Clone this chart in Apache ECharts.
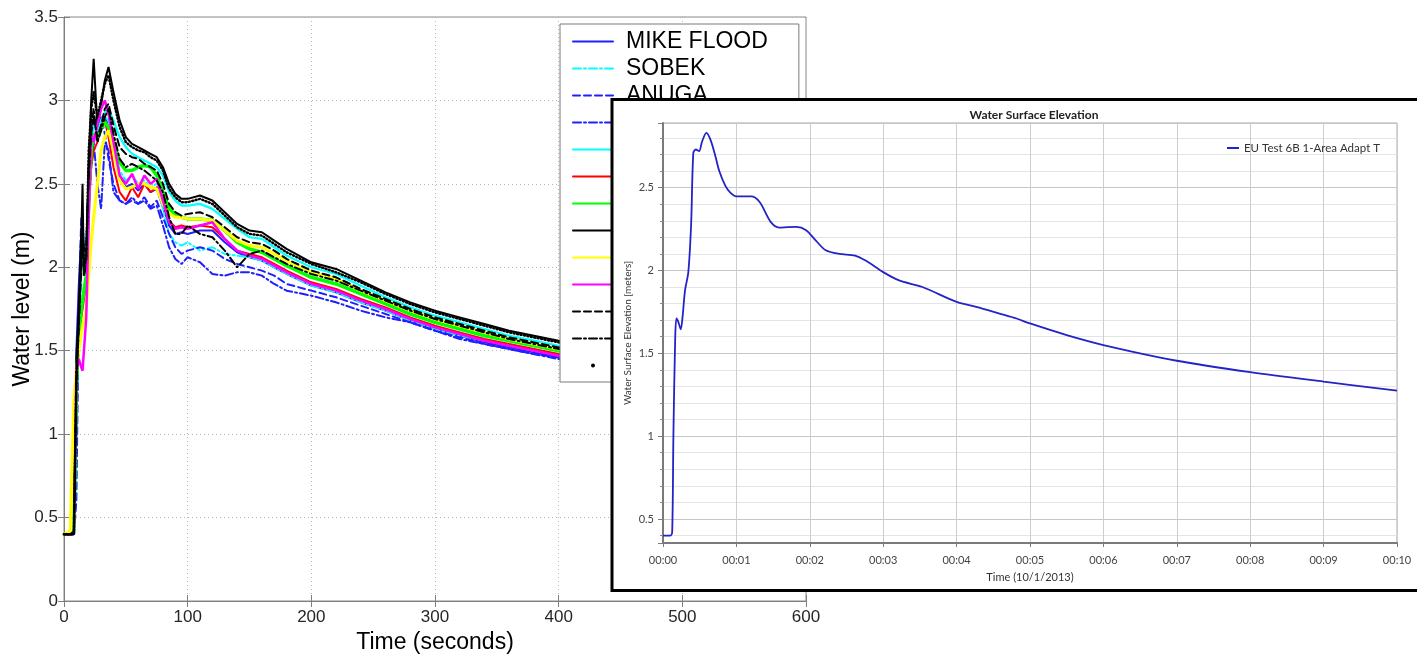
<!DOCTYPE html>
<html><head><meta charset="utf-8">
<script src="https://cdn.jsdelivr.net/npm/echarts@6/dist/echarts.min.js"></script>
<style>html,body{margin:0;padding:0;background:#fff}#c{width:1417px;height:658px}</style>
</head><body><div id="c"></div>
<script>
// ---- Main chart (left) : time in seconds ----
const times = [0,5,8,10,12,14,15,16,18,20,22,24,27,30,33,36,40,45,50,55,60,65,70,75,80,85,90,95,100,110,120,130,140,150,160,170,180,200,220,240,260,280,300,320,340,360,380,400,450];

const mikeFlood = [0.4,0.4,0.4,1.5,1.9, 2.2,2.3,2.1,2.15,2.5, 2.8,2.85,2.8,2.85,2.9, 2.85,2.7,2.55,2.48,2.5, 2.46,2.5,2.45,2.47,2.36, 2.25,2.2,2.21,2.2,2.22, 2.22,2.15,2.09,2.06,2.04, 2.0,1.96,1.89,1.85,1.79, 1.74,1.68,1.63,1.59,1.55, 1.52,1.49,1.46,1.39];
const sobek = [0.4,0.4,0.4,1.35,1.7, 2.0,2.1,2.0,2.1,2.45, 2.7,2.8,2.75,2.82,2.9, 2.88,2.72,2.58,2.52,2.55, 2.5,2.52,2.48,2.5,2.35, 2.2,2.15,2.13,2.15,2.1, 2.12,2.08,2.07,2.06,2.04, 2.0,1.96,1.89,1.85,1.79, 1.74,1.68,1.63,1.59,1.56, 1.53,1.5,1.48,1.41];
const anuga = [0.4,0.4,0.4,0.6,1.8, 2.3,2.25,2.0,2.1,2.4, 2.75,2.9,2.85,2.9,2.8, 2.65,2.5,2.4,2.38,2.4, 2.38,2.42,2.36,2.4,2.3, 2.2,2.12,2.08,2.1,2.12, 2.1,2.05,2.02,2.0,1.98, 1.95,1.9,1.86,1.82,1.77, 1.72,1.67,1.62,1.58,1.54, 1.51,1.48,1.46,1.39];
const blueDashDot = [0.4,0.4,0.4,1.0,1.7, 2.2,2.25,2.05,2.1,2.35, 2.6,2.75,2.5,2.35,2.75, 2.7,2.45,2.4,2.38,2.42, 2.38,2.4,2.35,2.37,2.25, 2.12,2.05,2.02,2.06,2.03, 1.96,1.95,1.97,1.97,1.95, 1.9,1.86,1.83,1.79,1.74, 1.7,1.67,1.62,1.57,1.54, 1.51,1.48,1.45,1.39];
const cyanSolid = [0.4,0.4,0.4,1.2,1.6, 2.0,2.1,2.05,2.1,2.5, 2.75,2.85,2.8,2.88,2.93, 2.95,2.88,2.78,2.72,2.68, 2.66,2.64,2.62,2.6,2.55, 2.45,2.4,2.37,2.37,2.38, 2.35,2.29,2.23,2.18,2.17, 2.12,2.07,2.0,1.96,1.89, 1.82,1.76,1.71,1.67,1.63, 1.59,1.56,1.53,1.46];
const redSolid = [0.4,0.4,0.4,1.25,1.55, 1.7,1.75,1.8,1.9,2.35, 2.6,2.7,2.75,2.85,2.88, 2.78,2.6,2.45,2.4,2.48, 2.42,2.5,2.45,2.48,2.38, 2.28,2.24,2.25,2.24,2.25, 2.24,2.17,2.1,2.08,2.06, 2.02,1.98,1.91,1.87,1.81, 1.76,1.7,1.65,1.61,1.57, 1.54,1.51,1.48,1.41];
const greenSolid = [0.4,0.4,0.41,1.3,1.6, 1.75,1.8,1.85,1.95,2.4, 2.7,2.8,2.78,2.83,2.87, 2.84,2.75,2.63,2.58,2.58, 2.6,2.61,2.6,2.55,2.45, 2.35,2.32,2.3,2.29,2.29, 2.28,2.22,2.15,2.11,2.09, 2.05,2.01,1.94,1.9,1.84, 1.78,1.72,1.67,1.63,1.59, 1.56,1.53,1.5,1.43];
const blackSolid = [0.4,0.4,0.42,1.45,1.75, 2.2,2.5,1.95,2.0,2.6, 3.0,3.25,2.85,2.97,3.12, 3.2,3.05,2.88,2.78,2.74, 2.72,2.7,2.68,2.66,2.6, 2.5,2.44,2.41,2.41,2.43, 2.4,2.33,2.26,2.22,2.21, 2.16,2.11,2.03,1.99,1.92, 1.85,1.79,1.74,1.7,1.66, 1.62,1.59,1.56,1.49];
const yellowSolid = [0.4,0.42,1.2,1.4,1.5, 1.6,1.65,1.68,1.75,1.95, 2.15,2.3,2.5,2.7,2.78, 2.82,2.7,2.52,2.47,2.48, 2.5,2.5,2.48,2.47,2.38, 2.32,2.3,2.3,2.29,2.29, 2.28,2.22,2.16,2.13,2.12, 2.08,2.04,1.97,1.93,1.86, 1.8,1.74,1.69,1.65,1.61, 1.57,1.54,1.51,1.44];
const magentaSolid = [0.4,0.4,0.4,1.38,1.45, 1.4,1.38,1.37,1.7,2.3, 2.8,2.75,2.85,2.95,3.0, 2.92,2.75,2.55,2.5,2.56, 2.47,2.55,2.5,2.53,2.4, 2.27,2.23,2.24,2.23,2.25, 2.27,2.17,2.1,2.07,2.05, 2.01,1.97,1.9,1.86,1.8, 1.75,1.69,1.64,1.6,1.56, 1.53,1.5,1.47,1.4];
const blackDashed = [0.4,0.4,0.4,1.3,1.65, 2.0,2.15,2.1,2.1,2.55, 2.8,2.9,2.78,2.85,2.95, 2.98,2.85,2.72,2.68,2.66, 2.65,2.62,2.6,2.58,2.5, 2.38,2.33,2.31,2.32,2.33, 2.3,2.24,2.18,2.15,2.14, 2.1,2.05,1.98,1.94,1.87, 1.81,1.75,1.7,1.66,1.62, 1.58,1.55,1.52,1.45];
const blackDashDot = [0.4,0.4,0.4,1.4,1.7, 2.1,2.2,2.05,2.05,2.6, 2.85,2.95,2.75,2.82,2.9, 2.95,2.8,2.65,2.6,2.62, 2.6,2.58,2.55,2.52,2.45, 2.3,2.2,2.2,2.25,2.2, 2.18,2.1,2.0,2.08,2.1, 2.06,2.02,1.96,1.92,1.86, 1.8,1.74,1.69,1.65,1.61, 1.57,1.54,1.51,1.44];
const blackDots = [0.4,0.4,0.4,1.3,1.7, 2.1,2.3,2.0,2.05,2.7, 2.95,3.05,2.9,3.0,3.1, 3.15,3.0,2.84,2.75,2.72, 2.7,2.69,2.66,2.64,2.58, 2.47,2.42,2.39,2.39,2.41, 2.38,2.31,2.24,2.2,2.19, 2.14,2.09,2.02,1.97,1.91, 1.84,1.78,1.73,1.69,1.65, 1.61,1.58,1.55,1.48];

const seriesNames = ['MIKE FLOOD','SOBEK','ANUGA','ISIS 2D','TUFLOW','InfoWorks','JFLOW+','LISFLOOD','RFSM-EDA','UIM','XPSTORM','Ceasg','FloodFlow'];

// ---- Inset chart (right) : time in seconds, shown as mm:ss minutes ----
const insetTimes = [0,6,7.5,8.5,10,11,12.5,14.5,16,18,20.7,23,24.8,26.8,29.5,32,35.5,39,43,46,51,55,60,66,72,79,88,95,102,109,117,125,133,144,157,166,180,193,212,240,256,275,289,300,330,360,420,480,540,600];
const insetLevels = [0.4,0.4,0.42,1.0,1.6,1.71,1.69,1.645,1.72,1.88,1.99,2.28,2.71,2.73,2.72,2.78,2.83,2.785,2.685,2.6,2.51,2.47,2.447,2.447,2.447,2.413,2.293,2.259,2.262,2.263,2.243,2.18,2.122,2.1,2.09,2.058,1.99,1.94,1.9,1.81,1.78,1.74,1.71,1.68,1.61,1.55,1.455,1.386,1.329,1.275];
const insetName = 'EU Test 6B 1-Area Adapt T';

const styles = [
  {c:'#1f1fff', w:2, t:'solid'},
  {c:'#00ffff', w:2, t:[8,3,2,3]},
  {c:'#1f1fff', w:2, t:[7,4]},
  {c:'#1f1fff', w:2, t:[8,3,2,3]},
  {c:'#00ffff', w:2.2, t:'solid'},
  {c:'#ff0000', w:2, t:'solid'},
  {c:'#00ff00', w:3.5, t:'solid'},
  {c:'#000000', w:2, t:'solid'},
  {c:'#ffff00', w:3, t:'solid'},
  {c:'#ff00ff', w:2.5, t:'solid'},
  {c:'#000000', w:2, t:[7,4]},
  {c:'#000000', w:2, t:[8,3,2,3]},
  {c:'#000000', w:2.5, t:[1,2.5]}
];
const valueSets = [mikeFlood,sobek,anuga,blueDashDot,cyanSolid,redSolid,greenSolid,blackSolid,yellowSolid,magentaSolid,blackDashed,blackDashDot,blackDots];

const mainSeries = valueSets.map((vals, k) => ({
  name: seriesNames[k], type: 'line', xAxisIndex: 0, yAxisIndex: 0, z: 2,
  symbol: 'none', smooth: false, silent: true,
  lineStyle: {color: styles[k].c, width: styles[k].w, type: styles[k].t, cap: 'round'},
  itemStyle: {color: styles[k].c},
  data: times.map((t, i) => [t, vals[i]])
}));

const insetSeries = {
  name: insetName, type: 'line', xAxisIndex: 2, yAxisIndex: 3, z: 6,
  symbol: 'none', smooth: 0.3,
  lineStyle: {color: '#2323c8', width: 1.8}, itemStyle: {color: '#2323c8'},
  data: insetTimes.map((t, i) => [t, insetLevels[i]])
};

const MF = 'Liberation Sans, Arial, sans-serif';
const IF = 'Lato, sans-serif';
const pad2 = n => (n < 10 ? '0' : '') + n;

const chart = echarts.init(document.getElementById('c'), null, {renderer: 'canvas'});
chart.setOption({
  animation: false,
  backgroundColor: '#fff',
  title: [{
    text: 'Water Surface Elevation', left: 1029, top: 104, textAlign: 'center', z: 6,
    textStyle: {fontFamily: IF, fontSize: 12, fontWeight: 'bold', color: '#222'}
  }],
  graphic: {elements: [{
    type: 'rect', z: 4, silent: true,
    shape: {x: 612, y: 99.5, width: 820, height: 491},
    style: {fill: '#fff', stroke: '#000', lineWidth: 3}
  }]},
  legend: [{
    data: seriesNames.map((n, k) => k === 12
      ? {name: n, icon: 'circle', itemStyle: {opacity: 1, color: '#000'}}
      : {name: n}),
    orient: 'vertical', left: 560, top: 24, z: 3,
    itemWidth: 40, itemHeight: 4, itemGap: 4,
    padding: [6, 31, 5, 12],
    backgroundColor: '#fff', borderColor: '#7a7a7a', borderWidth: 1,
    selectedMode: false,
    itemStyle: {opacity: 0},
    textStyle: {fontFamily: MF, fontSize: 23, lineHeight: 22.3, color: '#000', padding: [0, 0, 0, 8]}
  }, {
    data: [insetName], right: 32, top: 137, z: 6,
    itemWidth: 12, itemHeight: 4, itemGap: 4, padding: 5, selectedMode: false,
    itemStyle: {opacity: 0},
    textStyle: {fontFamily: IF, fontSize: 11.5, color: '#333'}
  }],
  grid: [
    {left: 64, top: 17, right: 611, bottom: 57, outerBoundsMode: 'none', containLabel: false,
     show: true, borderColor: '#8a8a8a', borderWidth: 1, backgroundColor: 'transparent'},
    {left: 663, top: 123, right: 20, bottom: 115, outerBoundsMode: 'none', containLabel: false,
     show: true, z: 5, borderColor: '#a8a8a8', borderWidth: 1, backgroundColor: 'transparent'}
  ],
  xAxis: [
    {gridIndex: 0, type: 'value', min: 0, max: 600, interval: 100,
     axisLine: {show: true, lineStyle: {color: '#7f7f7f', width: 1}},
     axisTick: {show: true, inside: true, length: 6, lineStyle: {color: '#7f7f7f'}},
     axisLabel: {fontFamily: MF, fontSize: 17, color: '#262626', margin: 8},
     splitLine: {show: true, lineStyle: {color: '#b5b5b5', type: [1, 3], width: 1}},
     name: 'Time (seconds)', nameLocation: 'middle', nameGap: 30,
     nameTextStyle: {fontFamily: MF, fontSize: 23, color: '#000'}},
    {gridIndex: 0, type: 'value', position: 'top', min: 0, max: 600, interval: 100,
     axisLine: {show: false}, axisLabel: {show: false}, splitLine: {show: false},
     axisTick: {show: true, inside: true, length: 6, lineStyle: {color: '#7f7f7f'}}},
    {gridIndex: 1, type: 'value', position: 'bottom', min: 0, max: 600, interval: 60, z: 5,
     axisLine: {show: true, lineStyle: {color: '#7a7a7a', width: 2}},
     axisTick: {show: true, length: 4, lineStyle: {color: '#7a7a7a'}},
     axisLabel: {fontFamily: IF, fontSize: 11, color: '#444', margin: 12,
       formatter: v => '00:' + pad2(Math.round(v / 60))},
     splitLine: {show: true, lineStyle: {color: '#cdcdcd', width: 1}},
     name: 'Time (10/1/2013)', nameLocation: 'middle', nameGap: 29,
     nameTextStyle: {fontFamily: IF, fontSize: 11, color: '#333'}}
  ],
  yAxis: [
    {gridIndex: 0, type: 'value', position: 'left', min: 0, max: 3.5, interval: 0.5,
     axisLine: {show: true, lineStyle: {color: '#7f7f7f', width: 1}},
     axisTick: {show: true, inside: true, length: 6, lineStyle: {color: '#7f7f7f'}},
     axisLabel: {fontFamily: MF, fontSize: 17, color: '#262626', margin: 6},
     splitLine: {show: true, lineStyle: {color: '#b5b5b5', type: [1, 3], width: 1}},
     name: 'Water level (m)', nameLocation: 'middle', nameGap: 30, nameRotate: 90, nameMoveOverlap: false,
     nameTextStyle: {fontFamily: MF, fontSize: 23, color: '#000'}},
    {gridIndex: 0, type: 'value', position: 'right', min: 0, max: 3.5, interval: 0.5,
     axisLine: {show: false}, axisLabel: {show: false}, splitLine: {show: false},
     axisTick: {show: true, inside: true, length: 6, lineStyle: {color: '#7f7f7f'}}},
    {gridIndex: 1, type: 'value', position: 'left', min: 0.355, max: 2.89, splitNumber: 25, z: 5,
     axisLine: {show: false}, axisLabel: {show: false},
     axisTick: {show: true, length: 3, lineStyle: {color: '#8a8a8a'}},
     splitLine: {show: true, lineStyle: {color: '#e4e4e4', width: 1}}},
    {gridIndex: 1, type: 'value', position: 'left', min: 0.355, max: 2.89, splitNumber: 5, z: 5,
     axisLine: {show: true, lineStyle: {color: '#7a7a7a', width: 2}},
     axisTick: {show: true, length: 5, lineStyle: {color: '#7a7a7a'}},
     axisLabel: {fontFamily: IF, fontSize: 11, color: '#444', margin: 9,
       formatter: v => (Math.abs(v * 2 - Math.round(v * 2)) < 1e-6 ? String(+v.toFixed(1)) : '')},
     splitLine: {show: true, lineStyle: {color: '#c6c6c6', width: 1}},
     name: 'Water Surface Elevation [meters]', nameLocation: 'middle', nameGap: 30, nameRotate: 90, nameMoveOverlap: false,
     nameTextStyle: {fontFamily: IF, fontSize: 10, color: '#333'}}
  ],
  series: mainSeries.concat([insetSeries])
});
</script></body></html>
